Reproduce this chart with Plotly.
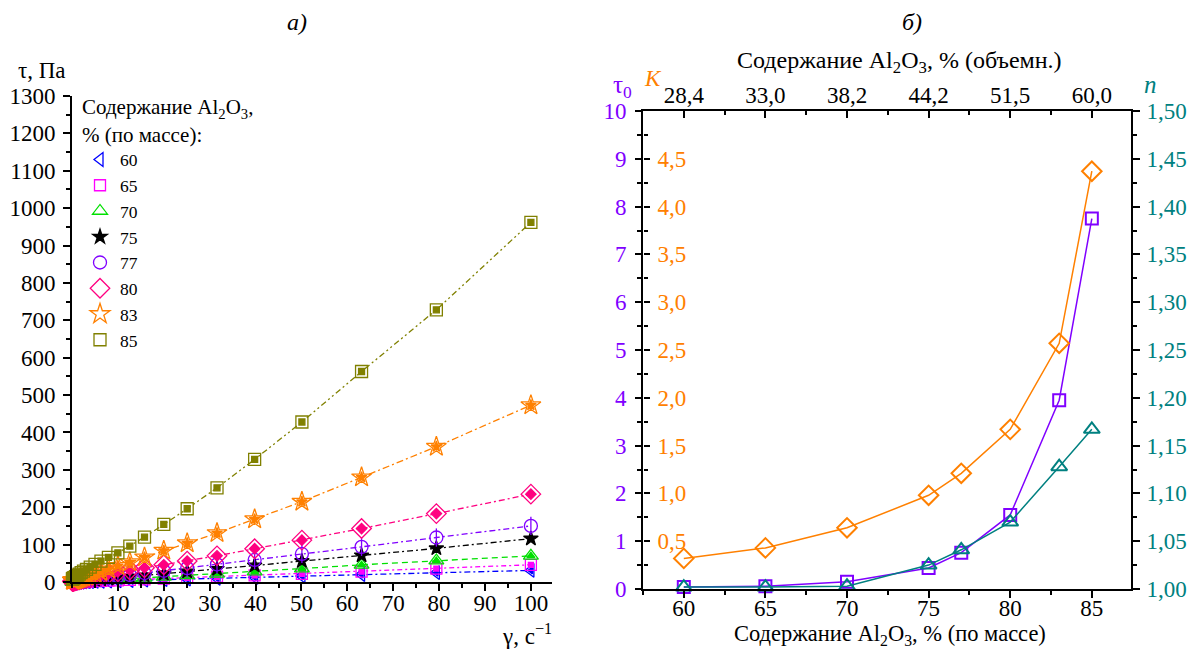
import plotly.graph_objects as go

W, H = 1196, 650
OFF = 8  # browser body margin
FW, FH = W - OFF, H - OFF
FONT = "Liberation Serif, Times New Roman, DejaVu Serif, serif"

# ---------------- data: panel a) ----------------
gamma = [0.1, 0.126, 0.158, 0.2, 0.251, 0.316, 0.398, 0.501, 0.631, 0.794,
         1, 1.26, 1.58, 2, 2.51, 3.16, 3.98, 5.01, 6.31, 7.94,
         10, 12.6, 15.8, 20, 25.1, 31.6, 39.8, 50.1, 63.1, 79.4, 100]

tau_60 = [0.05, 0.06, 0.07, 0.08, 0.1, 0.12, 0.14, 0.17, 0.21, 0.26,
          0.32, 0.4, 0.51, 0.64, 0.8, 1.0, 1.3, 1.6, 2.0, 2.5,
          3.2, 4.0, 5.0, 6.4, 8.0, 10, 12.7, 16, 20, 25, 31]
tau_65 = [0.08, 0.09, 0.1, 0.12, 0.14, 0.17, 0.2, 0.25, 0.31, 0.38,
          0.47, 0.58, 0.72, 0.9, 1.1, 1.4, 1.8, 2.2, 2.8, 3.5,
          4.4, 5.5, 7.0, 8.8, 11, 14, 17.5, 22, 28, 36, 46]
tau_70 = [0.17, 0.18, 0.2, 0.23, 0.26, 0.3, 0.35, 0.42, 0.5, 0.6,
          0.75, 0.92, 1.15, 1.4, 1.8, 2.2, 2.8, 3.5, 4.4, 5.6,
          7.0, 8.8, 11, 14, 17.5, 22, 28, 36, 46, 57, 70]
tau_75 = [0.48, 0.5, 0.52, 0.55, 0.6, 0.65, 0.72, 0.82, 0.95, 1.1,
          1.3, 1.6, 1.9, 2.4, 2.9, 3.6, 4.5, 5.6, 7.0, 8.8,
          11, 14, 17.5, 22, 28, 35, 44, 56, 71, 90, 116]
tau_77 = [0.8, 0.82, 0.85, 0.9, 0.95, 1.0, 1.1, 1.25, 1.45, 1.7,
          2.0, 2.4, 2.9, 3.5, 4.3, 5.3, 6.5, 8.0, 10, 12.5,
          15.5, 19, 24, 30, 37, 47, 59, 75, 94, 119, 150]
tau_80 = [1.6, 1.7, 1.8, 1.9, 2.1, 2.3, 2.6, 2.9, 3.3, 3.8,
          4.4, 5.0, 6.0, 7.0, 8.5, 10, 12, 15, 18, 22,
          27, 32, 38, 46, 56, 70, 89, 112, 143, 183, 235]
tau_83 = [4.0, 4.1, 4.2, 4.3, 4.4, 4.6, 4.8, 5.1, 5.5, 6.1,
          6.8, 7.8, 9.0, 10.5, 12.5, 15, 18, 22, 27, 34,
          43, 53, 66, 84, 104, 131, 168, 215, 280, 362, 473]
tau_85 = [8.0, 8.3, 8.6, 9.0, 9.5, 10, 10.5, 11.5, 12.5, 14,
          16, 18, 21, 25, 29, 34, 40, 47, 56, 66,
          78, 96, 120, 154, 196, 252, 328, 428, 563, 728, 962]

series_labels = ["60", "65", "70", "75", "77", "80", "83", "85"]
series_values = [tau_60, tau_65, tau_70, tau_75, tau_77, tau_80, tau_83, tau_85]

y_ticks_a = list(range(0, 1301, 100))
x_ticks_a = list(range(10, 101, 10))

# ---------------- data: panel б) ----------------
mass_pct = [60, 65, 70, 75, 77, 80, 83, 85]
tau0 = [0.04, 0.06, 0.15, 0.44, 0.76, 1.55, 3.95, 7.75]
K_vals = [0.32, 0.43, 0.64, 0.98, 1.21, 1.67, 2.57, 4.37]
n_vals = [1.002, 1.002, 1.003, 1.025, 1.041, 1.070, 1.128, 1.167]

mass_ticks = [60, 65, 70, 75, 80, 85]
vol_ticktext = ["28,4", "33,0", "38,2", "44,2", "51,5", "60,0"]
tau0_ticks = list(range(0, 11))
K_ticks = [0.5, 1.0, 1.5, 2.0, 2.5, 3.0, 3.5, 4.0, 4.5]
K_ticktext = ["0,5", "1,0", "1,5", "2,0", "2,5", "3,0", "3,5", "4,0", "4,5"]
n_ticks = [1.00, 1.05, 1.10, 1.15, 1.20, 1.25, 1.30, 1.35, 1.40, 1.45, 1.50]
n_ticktext = ["1,00", "1,05", "1,10", "1,15", "1,20", "1,25", "1,30", "1,35", "1,40", "1,45", "1,50"]

# ---------------- styles ----------------
colors = ["#0000ff", "#ff00ff", "#00e000", "#000000", "#8000ff", "#ff0080", "#ff8000", "#808000"]
open_sym = ["triangle-left-open", "square-open", "triangle-up-open", "star",
            "circle-open", "diamond-open", "star-open", "square-open"]
open_size = [12, 11, 13, 11, 13, 15, 15, 12]
fill_sym = ["triangle-left", "square", "triangle-up", None,
            "line-ns-open", "diamond", "star", "square"]
fill_size = [6, 5, 7, None, 13, 8, 8, 6]
dashes = ["6px,3px,2px,3px", "5px,3px,2px,3px", "6px,4px", "6px,3px,2px,3px",
          "6px,3px,2px,3px", "6px,3px,2px,3px", "7px,3px,2px,3px", "6px,3px,2px,3px,2px,3px"]

CT0, CK, CN = "#8000ff", "#ff8000", "#008080"


def px(xp):
    return (xp - OFF) / FW


def py(yp):
    return 1 - (yp - OFF) / FH


fig = go.Figure()

# panel a) lines
for lab, vals, col, dsh in zip(series_labels, series_values, colors, dashes):
    fig.add_trace(go.Scatter(x=gamma, y=vals, mode="lines", showlegend=False,
                             line=dict(color=col, width=1.3, dash=dsh),
                             xaxis="x", yaxis="y", hoverinfo="skip"))
# panel a) markers
for i, (lab, vals, col) in enumerate(zip(series_labels, series_values, colors)):
    fig.add_trace(go.Scatter(x=gamma, y=vals, mode="markers", name=lab,
                             marker=dict(symbol=open_sym[i], size=open_size[i], color=col,
                                         line=dict(color=col, width=1.3)),
                             cliponaxis=False, xaxis="x", yaxis="y"))
    if fill_sym[i] is not None:
        fig.add_trace(go.Scatter(x=gamma, y=vals, mode="markers", showlegend=False,
                                 marker=dict(symbol=fill_sym[i], size=fill_size[i], color=col,
                                             line=dict(color=col, width=1.3)),
                                 cliponaxis=False, xaxis="x", yaxis="y", hoverinfo="skip"))

# panel б)
fig.add_trace(go.Scatter(x=mass_pct, y=K_vals, mode="lines+markers", showlegend=False,
                         line=dict(color=CK, width=1.5),
                         marker=dict(symbol="diamond-open", size=15, color=CK, line=dict(width=2)),
                         cliponaxis=False, xaxis="x2", yaxis="y4"))
fig.add_trace(go.Scatter(x=mass_pct, y=tau0, mode="lines+markers", showlegend=False,
                         line=dict(color=CT0, width=1.5),
                         marker=dict(symbol="square-open", size=12, color=CT0, line=dict(width=2)),
                         cliponaxis=False, xaxis="x2", yaxis="y2"))
fig.add_trace(go.Scatter(x=mass_pct, y=n_vals, mode="lines+markers", showlegend=False,
                         line=dict(color=CN, width=1.5),
                         marker=dict(symbol="triangle-up-open", size=14, color=CN, line=dict(width=2)),
                         cliponaxis=False, xaxis="x2", yaxis="y3"))
# top-axis carrier (invisible)
fig.add_trace(go.Scatter(x=mass_pct, y=tau0, mode="lines", showlegend=False,
                         line=dict(width=0), opacity=0, hoverinfo="skip",
                         xaxis="x3", yaxis="y2"))

TS = 23
tickfont = dict(family=FONT, size=TS, color="black")
axline = dict(showline=True, linecolor="black", linewidth=2, showgrid=False, zeroline=False,
              automargin=False)


def minor(vals, side):
    return dict(tickvals=vals, ticks=side, ticklen=4, tickwidth=1.5, tickcolor="black")


xa_dom = [px(72), px(552)]
ya_dom = [py(582), py(96)]
xb_dom = [px(643), px(1131)]
yb_dom = [py(589), py(111)]

fig.update_layout(
    template="none",
    width=FW, height=FH, margin=dict(l=0, r=0, t=0, b=0, pad=0, autoexpand=False),
    paper_bgcolor="white", plot_bgcolor="white",
    font=dict(family=FONT, size=18, color="black"),
    xaxis=dict(domain=xa_dom, range=[0, 104.6], anchor="y", tickvals=x_ticks_a,
               ticks="outside", ticklen=7, tickwidth=1.5, tickcolor="black", tickfont=tickfont,
               ticklabelstandoff=-8,
               minor=minor([5 * k for k in range(0, 21)], "outside"), **axline),
    yaxis=dict(domain=ya_dom, range=[0, 1300], anchor="x", tickvals=y_ticks_a,
               ticks="outside", ticklen=7, tickwidth=1.5, tickcolor="black", tickfont=tickfont,
               ticklabelstandoff=3,
               minor=minor([50 + 100 * k for k in range(13)], "outside"), **axline),
    xaxis2=dict(domain=xb_dom, range=[57.5, 87.4], anchor="y2", tickvals=mass_ticks,
                ticks="outside", ticklen=7, tickwidth=1.5, tickcolor="black", tickfont=tickfont,
                ticklabelstandoff=-10,
                minor=minor([57.5 + 2.5 * k for k in range(13)], "outside"), **axline),
    xaxis3=dict(range=[57.5, 87.4], overlaying="x2", anchor="y2", side="top",
                tickvals=mass_ticks, ticktext=vol_ticktext,
                ticks="inside", ticklen=7, tickwidth=1.5, tickcolor="black", tickfont=tickfont,
                ticklabelstandoff=-3,
                minor=minor([57.5 + 2.5 * k for k in range(13)], "inside"), **axline),
    yaxis2=dict(domain=yb_dom, range=[0, 10], anchor="x2", tickvals=tau0_ticks,
                ticks="outside", ticklen=6, tickwidth=1.5, tickcolor="black",
                tickfont=dict(family=FONT, size=TS, color=CT0), ticklabelstandoff=4,
                minor=minor([0.5 + k for k in range(10)], "outside"), **axline),
    yaxis4=dict(range=[0, 5], overlaying="y2", anchor="free", position=px(643), side="right",
                tickvals=K_ticks, ticktext=K_ticktext,
                ticks="outside", ticklen=6, tickwidth=1.5, tickcolor="black",
                tickfont=dict(family=FONT, size=TS, color=CK), ticklabelstandoff=3,
                minor=minor([0.25 + 0.5 * k for k in range(10)], "outside"),
                showline=False, showgrid=False, zeroline=False, automargin=False),
    yaxis3=dict(range=[1.0, 1.5], overlaying="y2", anchor="x2", side="right",
                tickvals=n_ticks, ticktext=n_ticktext,
                ticks="outside", ticklen=7, tickwidth=1.5, tickcolor="black",
                tickfont=dict(family=FONT, size=TS, color=CN), ticklabelstandoff=2,
                minor=minor([1.025 + 0.05 * k for k in range(10)], "outside"), **axline),
    legend=dict(x=px(80), y=py(87), xanchor="left", yanchor="top",
                bgcolor="rgba(0,0,0,0)", borderwidth=0,
                font=dict(family=FONT, size=17.5, color="black"),
                title=dict(text="Содержание Al<sub>2</sub>O<sub>3</sub>,<br>% (по массе):",
                           font=dict(family=FONT, size=21, color="black"), side="top"),
                tracegroupgap=0, itemwidth=30),
    showlegend=True,
)

ann = [
    dict(text="<i>а)</i>", x=px(297), y=py(22), size=24, color="black"),
    dict(text="<i>б)</i>", x=px(912), y=py(22), size=24, color="black"),
    dict(text="τ, Па", x=px(42), y=py(70), size=23, color="black"),
    dict(text="γ, с<sup>−1</sup>", x=px(527), y=py(634), size=23, color="black"),
    dict(text="Содержание Al<sub>2</sub>O<sub>3</sub>, % (по массе)", x=px(890), y=py(635), size=22.5, color="black"),
    dict(text="Содержание Al<sub>2</sub>O<sub>3</sub>, % (объемн.)", x=px(899), y=py(62), size=24, color="black"),
    dict(text="τ<sub>0</sub>", x=px(623), y=py(86), size=25, color=CT0),
    dict(text="<i>K</i>", x=px(653), y=py(79), size=23, color=CK),
    dict(text="<i>n</i>", x=px(1150), y=py(84), size=25, color=CN),
]
for a in ann:
    fig.add_annotation(text=a["text"], x=a["x"], y=a["y"], xref="paper", yref="paper",
                       showarrow=False, xanchor="center", yanchor="middle",
                       font=dict(family=FONT, size=a["size"], color=a["color"]))

fig.write_html("out.html")
